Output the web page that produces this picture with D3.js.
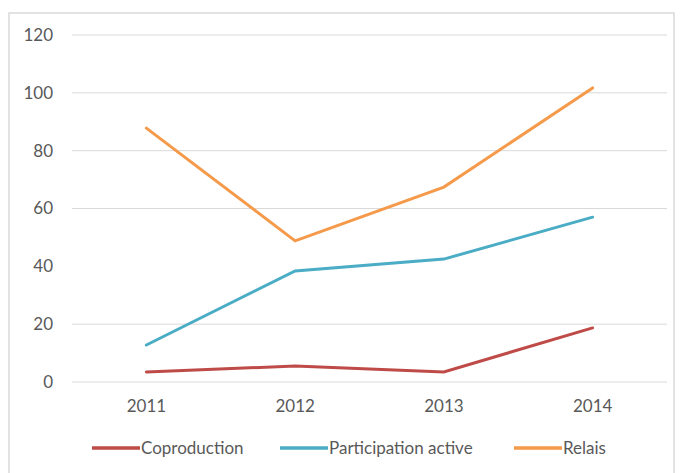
<!DOCTYPE html>
<html><head><meta charset="utf-8">
<script src="https://cdn.jsdelivr.net/npm/d3@7"></script>
<style>body{margin:0;background:#fff;}svg{display:block;}</style>
</head><body>
<script>
const years = ["2011","2012","2013","2014"];
const seriesNames = ["Coproduction","Participation active","Relais"];
const coproduction = [3.5, 5.5, 3.5, 18.7];
const participation = [12.8, 38.4, 42.5, 57];
const relais = [87.8, 48.8, 67.4, 101.7];
const yTicks = [0, 20, 40, 60, 80, 100, 120];
const colors = ["#BE4B48", "#4AACC5", "#F59A4A"];

const series = [coproduction, participation, relais];
const W = 681, H = 473;
const svg = d3.select("body").append("svg").attr("width", W).attr("height", H);
const font = "Lato, 'Open Sans', sans-serif";
const fs = 17;

svg.append("rect").attr("x", 9).attr("y", 13).attr("width", 665).attr("height", 470)
  .attr("fill", "#fff").attr("stroke", "#D9D9D9").attr("stroke-width", 1.5);

const x = d3.scaleBand().domain(years).range([72, 667]);
const y = d3.scaleLinear().domain([0, 120]).range([382, 35]);

const grid = svg.append("g");
grid.selectAll("line").data(yTicks.filter(t => t !== 40)).enter().append("line")
  .attr("x1", 72).attr("x2", 667)
  .attr("y1", d => y(d)).attr("y2", d => y(d))
  .attr("stroke", "#D9D9D9").attr("stroke-width", 1);

const yAxis = svg.append("g").attr("transform", "translate(72,0)")
  .call(d3.axisLeft(y).tickValues(yTicks).tickSize(0).tickPadding(19));
yAxis.select(".domain").remove();
yAxis.selectAll("text").attr("font-family", font).attr("font-size", fs).attr("fill", "#595959");

const xAxis = svg.append("g").attr("transform", "translate(0,382)")
  .call(d3.axisBottom(x).tickSize(0).tickPadding(18));
xAxis.select(".domain").remove();
xAxis.selectAll("text").attr("font-family", font).attr("font-size", fs).attr("fill", "#595959");

const line = d3.line().x((d, i) => x(years[i]) + x.bandwidth() / 2).y(d => y(d));
series.forEach((s, k) => {
  svg.append("path").datum(s).attr("d", line).attr("fill", "none")
    .attr("stroke", colors[k]).attr("stroke-width", 3).attr("stroke-linecap", "round");
});

const legX = [92, 280, 514];
const leg = svg.append("g");
seriesNames.forEach((n, k) => {
  leg.append("line").attr("x1", legX[k]).attr("x2", legX[k] + 48).attr("y1", 448).attr("y2", 448)
    .attr("stroke", colors[k]).attr("stroke-width", 3.5);
  leg.append("text").attr("x", legX[k] + 49).attr("y", 454).text(n)
    .attr("font-family", font).attr("font-size", fs).attr("fill", "#595959");
});
</script>
</body></html>
